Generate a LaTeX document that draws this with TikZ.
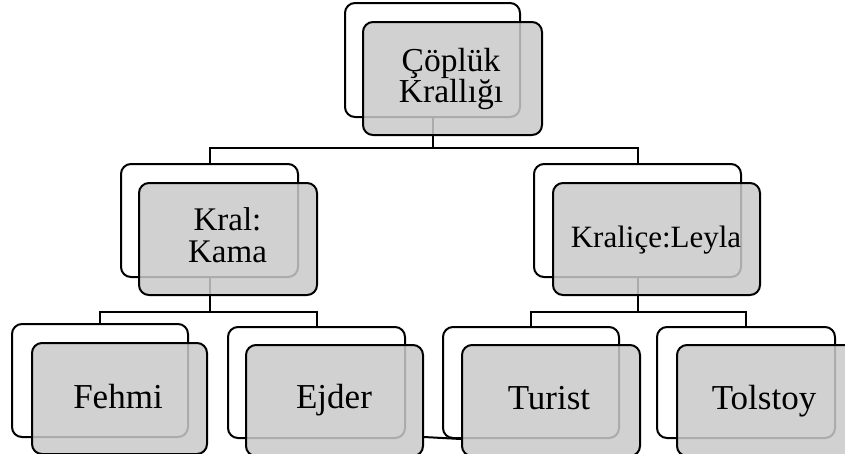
\documentclass[tikz,border=0pt]{standalone}
\usepackage{fontspec}
\setmainfont{Liberation Serif}
\begin{document}
\begin{tikzpicture}[x=1pt,y=-1pt,
  wbox/.style={draw=black, line width=2pt, rounded corners=10pt, fill=white, inner sep=0pt},
  gbox/.style={draw=black, line width=2pt, rounded corners=10pt, fill=black!21, fill opacity=0.85, draw opacity=1, inner sep=0pt},
  conn/.style={draw=black, line width=2pt},
  txt/.style={inner sep=0pt, text=black, align=center},
  big/.style={font=\fontsize{35}{30}\selectfont}]
\useasboundingbox (0,0) rectangle (845,459);
% back (white) boxes
\node[wbox, minimum width=175pt, minimum height=114pt] (w0) at (432.5,60) {};
\node[wbox, minimum width=177pt, minimum height=113pt] (w1) at (209.5,220.5) {};
\node[wbox, minimum width=207pt, minimum height=113pt] (w2) at (637.5,220.5) {};
\node[wbox, minimum width=176pt, minimum height=113pt] (w3) at (100,380.5) {};
\node[wbox, minimum width=177pt, minimum height=111pt] (w4) at (316.5,382.5) {};
\node[wbox, minimum width=176pt, minimum height=111pt] (w5) at (531,382.5) {};
\node[wbox, minimum width=178pt, minimum height=111pt] (w6) at (746,382.5) {};
% connectors
\draw[conn] (w0.south) -- ++(0,30) -| (w1.north);
\draw[conn] (w0.south) -- ++(0,30) -| (w2.north);
\draw[conn] (w1.south) -- ++(0,34) -| (w3.north);
\draw[conn] (w1.south) -- ++(0,34) -| (w4.north);
\draw[conn] (w2.south) -- ++(0,34) -| (w5.north);
\draw[conn] (w2.south) -- ++(0,34) -| (w6.north);
% front (grey) boxes
\node[gbox, minimum width=179pt, minimum height=113pt] (g0) at (452.5,78.5) {};
\node[gbox, minimum width=178pt, minimum height=112pt] (g1) at (228,239) {};
\node[gbox, minimum width=207pt, minimum height=112pt] (g2) at (656.5,239) {};
\begin{scope}
\clip (0,0) rectangle (845,453);
\node[gbox, minimum width=175pt, minimum height=111pt] (g3) at (119.5,398.5) {};
\node[gbox, minimum width=177pt, minimum height=111pt] (g4) at (334.5,400.5) {};
\node[gbox, minimum width=178pt, minimum height=111pt] (g5) at (551,400.5) {};
\node[gbox, minimum width=178pt, minimum height=111pt] (g6) at (766,400.5) {};
\end{scope}
\draw[conn] ([yshift=-36.5pt]g4.east) -- ([yshift=-38.5pt]g5.west);
% texts
\node[txt, font=\fontsize{33.5}{30}\selectfont] (t0) at (451,79) {Çöplük\\Krallığı};
\node[txt, font=\fontsize{33}{32}\selectfont] (t1) at (227.5,235) {Kral:\\Kama};
\node[txt, anchor=base, font=\fontsize{31}{31}\selectfont] (t2) at (656,247) {Kraliçe:Leyla};
\node[txt, anchor=base, big] (t3) at (118,408) {Fehmi};
\node[txt, anchor=base, big] (t4) at (334,408) {Ejder};
\node[txt, anchor=base, big] (t5) at (549,409) {Turist};
\node[txt, anchor=base, big] (t6) at (764,409) {Tolstoy};
\end{tikzpicture}
\end{document}
